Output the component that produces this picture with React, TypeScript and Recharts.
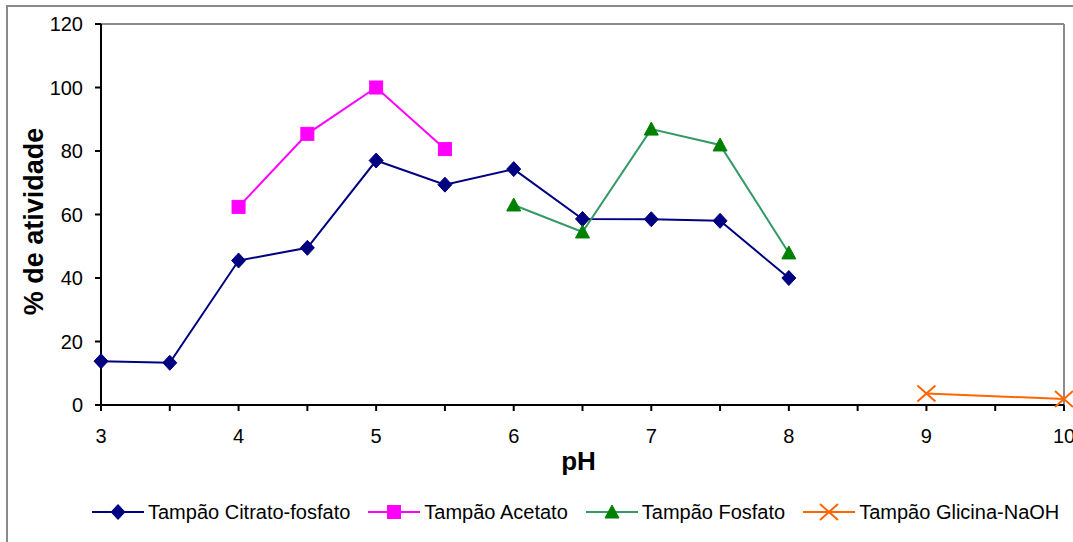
import React from "react";
import { LineChart, Line, XAxis, YAxis, ReferenceLine, Legend, Label } from "recharts";

const phCitrato = [3, 3.5, 4, 4.5, 5, 5.5, 6, 6.5, 7, 7.5, 8];
const valCitrato = [13.8, 13.3, 45.5, 49.5, 77, 69.4, 74.3, 58.6, 58.5, 58, 40];
const phAcetato = [4, 4.5, 5, 5.5];
const valAcetato = [62.4, 85.4, 100, 80.6];
const phFosfato = [6, 6.5, 7, 7.5, 8];
const valFosfato = [63, 54.5, 86.9, 81.9, 47.9];
const phGlicina = [9, 10];
const valGlicina = [3.6, 1.9];

const xTicks = [3, 3.5, 4, 4.5, 5, 5.5, 6, 6.5, 7, 7.5, 8, 8.5, 9, 9.5, 10];
const yTicks = [0, 20, 40, 60, 80, 100, 120];

const names = ["Tampão Citrato-fosfato", "Tampão Acetato", "Tampão Fosfato", "Tampão Glicina-NaOH"];
const xTitle = "pH";
const yTitle = "% de atividade";

const build = (xs: number[], ys: number[]) => xs.map((x, i) => ({ x, y: ys[i] }));
const dCitrato = build(phCitrato, valCitrato);
const dAcetato = build(phAcetato, valAcetato);
const dFosfato = build(phFosfato, valFosfato);
const dGlicina = build(phGlicina, valGlicina);

const FONT = "'Liberation Sans', Arial, sans-serif";

const Diamond = (cx: number, cy: number, key?: any) => (
  <path key={key} d={`M${cx},${cy - 7.5} L${cx + 7},${cy} L${cx},${cy + 7.5} L${cx - 7},${cy} Z`} fill="#000080" stroke="#000080" />
);
const Square = (cx: number, cy: number, key?: any) => (
  <rect key={key} x={cx - 6.5} y={cy - 6.5} width={13} height={13} fill="#FF00FF" stroke="#FF00FF" />
);
const Tri = (cx: number, cy: number, key?: any) => (
  <path key={key} d={`M${cx},${cy - 7} L${cx + 7},${cy + 6} L${cx - 7},${cy + 6} Z`} fill="#008000" stroke="#008000" />
);
const Cross = (cx: number, cy: number, key?: any) => (
  <path key={key} d={`M${cx - 9},${cy - 8} L${cx + 9},${cy + 8} M${cx - 9},${cy + 8} L${cx + 9},${cy - 8}`} stroke="#FF6600" strokeWidth={2} fill="none" />
);

const mk = (fn: any) => (p: any) => fn(p.cx, p.cy, `${p.index}`);

const legendItems = [
  { name: names[0], color: "#000080", m: Diamond },
  { name: names[1], color: "#FF00FF", m: Square },
  { name: names[2], color: "#339966", m: Tri },
  { name: names[3], color: "#FF6600", m: Cross },
];

const LegendContent = () => (
  <div style={{ display: "flex", justifyContent: "flex-start", alignItems: "center", paddingLeft: 92, fontFamily: FONT, fontSize: 20, color: "#000", lineHeight: "24px" }}>
    {legendItems.map((it, i) => (
      <div key={i} style={{ display: "flex", alignItems: "center", marginRight: 18 }}>
        <svg width={52} height={20} style={{ display: "block" }}>
          <line x1={0} y1={10} x2={52} y2={10} stroke={it.color} strokeWidth={2} />
          {it.m(26, 10)}
        </svg>
        <span style={{ marginLeft: 4, whiteSpace: "nowrap" }}>{it.name}</span>
      </div>
    ))}
  </div>
);

const XTitle = (props: any) => {
  const vb = props.viewBox || {};
  return (
    <text x={vb.x + vb.width / 2 - 4} y={470} textAnchor="middle" fontFamily={FONT} fontSize={26} fontWeight="bold" fill="#000">
      {xTitle}
    </text>
  );
};

const YTitle = (props: any) => {
  const vb = props.viewBox || {};
  const cy = vb.y + vb.height / 2 + 7;
  const bx = 43;
  return (
    <text x={bx} y={cy} transform={`rotate(-90 ${bx} ${cy})`} textAnchor="middle" fontFamily={FONT} fontSize={27} fontWeight="bold" fill="#000">
      {yTitle}
    </text>
  );
};

export default function App() {
  return (
    <div style={{ position: "absolute", left: 0, top: 0, width: 1073, height: 542, background: "#fff", overflow: "hidden" }}>
      <div style={{ position: "absolute", left: 6, top: 5, width: 1200, height: 700, border: "2px solid #8a8a8a" }} />
      <div style={{ position: "absolute", left: 0, top: 0 }}>
        <LineChart width={1073} height={542} margin={{ top: 24, right: 9, left: 41, bottom: 83 }}>
          <XAxis
            dataKey="x"
            type="number"
            domain={[3, 10]}
            ticks={xTicks}
            interval={0}
            tickFormatter={(v: number) => (Number.isInteger(v) ? String(v) : "")}
            stroke="#000"
            strokeWidth={2}
            tickSize={6}
            tickMargin={18}
            height={30}
            tick={{ fill: "#000", fontSize: 20, fontFamily: FONT }}
          >
            <Label content={<XTitle />} />
          </XAxis>
          <YAxis
            type="number"
            domain={[0, 120]}
            ticks={yTicks}
            interval={0}
            stroke="#000"
            strokeWidth={2}
            tickSize={6}
            tickMargin={12}
            width={60}
            tick={{ fill: "#000", fontSize: 20, fontFamily: FONT }}
          >
            <Label content={<YTitle />} />
          </YAxis>
          <ReferenceLine y={120} stroke="#8a8a8a" strokeWidth={2} />
          <ReferenceLine x={10} stroke="#8a8a8a" strokeWidth={2} />
          <Legend content={<LegendContent />} verticalAlign="bottom" height={24} wrapperStyle={{ bottom: 18, left: 0, width: 1073 }} />
          <Line data={dCitrato} dataKey="y" name={names[0]} stroke="#000080" strokeWidth={2} dot={mk(Diamond)} isAnimationActive={false} />
          <Line data={dAcetato} dataKey="y" name={names[1]} stroke="#FF00FF" strokeWidth={2} dot={mk(Square)} isAnimationActive={false} />
          <Line data={dFosfato} dataKey="y" name={names[2]} stroke="#339966" strokeWidth={2} dot={mk(Tri)} isAnimationActive={false} />
          <Line data={dGlicina} dataKey="y" name={names[3]} stroke="#FF6600" strokeWidth={2} dot={mk(Cross)} isAnimationActive={false} />
        </LineChart>
      </div>
    </div>
  );
}
